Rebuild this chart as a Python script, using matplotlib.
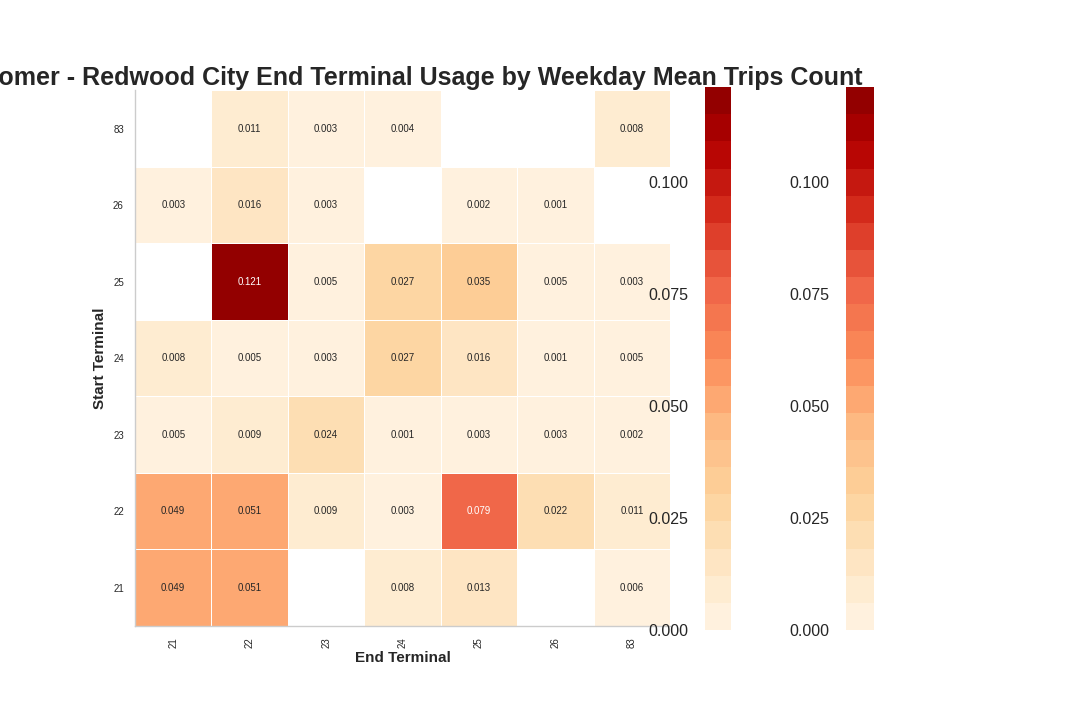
import numpy as np
import matplotlib
matplotlib.use("Agg")
import matplotlib.pyplot as plt
from matplotlib.colors import ListedColormap, Normalize

plt.rcParams['font.family'] = ['Liberation Sans', 'DejaVu Sans']

start_terminals = ["21", "22", "23", "24", "25", "26", "83"]
end_terminals = ["21", "22", "23", "24", "25", "26", "83"]
nan = np.nan
# rows: start terminal 21..83 ; columns: end terminal 21..83
mean_trips = np.array([
    [0.049, 0.051, nan,   0.008, 0.013, nan,   0.006],
    [0.049, 0.051, 0.009, 0.003, 0.0786, 0.022, 0.011],
    [0.005, 0.009, 0.024, 0.001, 0.003, 0.003, 0.002],
    [0.008, 0.005, 0.003, 0.027, 0.016, 0.001, 0.005],
    [nan,   0.1213, 0.005, 0.027, 0.035, 0.005, 0.003],
    [0.003, 0.016, 0.003, nan,   0.002, 0.001, nan],
    [nan,   0.011, 0.003, 0.004, nan,   nan,   0.008],
])
title = "Customer - Redwood City End Terminal Usage by Weekday Mean Trips Count"

n_levels = 20
cmap = ListedColormap(plt.get_cmap('OrRd')(np.linspace(0, 1, n_levels + 2)[1:-1]))
vmin, vmax = 0.0, float(np.nanmax(mean_trips))
norm = Normalize(vmin=vmin, vmax=vmax)


def rel_lum(c):
    rgb = np.array(c[:3])
    rgb = np.where(rgb <= 0.03928, rgb / 12.92, ((rgb + 0.055) / 1.055) ** 2.4)
    return rgb.dot([0.2126, 0.7152, 0.0722])


fig = plt.figure(figsize=(10.8, 7.2), dpi=100)
ax = fig.add_axes([0.125, 0.1306, 0.4954, 0.744])
data = np.ma.masked_invalid(mean_trips)
mesh = ax.pcolormesh(np.arange(len(end_terminals) + 1), np.arange(len(start_terminals) + 1),
                     data, cmap=cmap, norm=norm, edgecolors='white', linewidth=0.7)
ax.set_xlim(0, len(end_terminals))
ax.set_ylim(0, len(start_terminals))

for i in range(len(start_terminals)):
    for j in range(len(end_terminals)):
        v = mean_trips[i, j]
        if np.isnan(v):
            continue
        col = 'white' if rel_lum(cmap(norm(v))) < 0.408 else '#262626'
        ax.text(j + 0.5, i + 0.5, f"{v:.3f}", ha='center', va='center', fontsize=7, color=col)

ax.set_xticks(np.arange(len(end_terminals)) + 0.5)
ax.set_xticklabels(end_terminals, rotation=90, fontsize=7, color='#262626')
ax.set_yticks(np.arange(len(start_terminals)) + 0.5)
ax.set_yticklabels(start_terminals, fontsize=7, color='#262626')
ax.tick_params(length=0, pad=8)
for s in ['top', 'right']:
    ax.spines[s].set_visible(False)
for s in ['left', 'bottom']:
    ax.spines[s].set_color('#cccccc')
    ax.spines[s].set_linewidth(1)
ax.set_xlabel("End Terminal", fontsize=11, fontweight='bold', color='#262626', labelpad=2)
ax.set_ylabel("Start Terminal", fontsize=11, fontweight='bold', color='#262626', labelpad=4)
ax.set_title(title, fontsize=18, fontweight='bold', color='#262626', pad=4)

ticks = [0.0, 0.025, 0.05, 0.075, 0.1]
for left, w in [(0.6528, 0.0241), (0.7833, 0.0259)]:
    cax = fig.add_axes([left, 0.125, w, 0.754])
    cb = fig.colorbar(mesh, cax=cax, ticks=ticks, ticklocation='left')
    cb.outline.set_visible(False)
    cax.tick_params(length=0, pad=12, labelsize=11.5, colors='#262626')
    cax.set_yticklabels([f"{t:.3f}" for t in ticks])

fig.savefig("out.png", dpi=100)
